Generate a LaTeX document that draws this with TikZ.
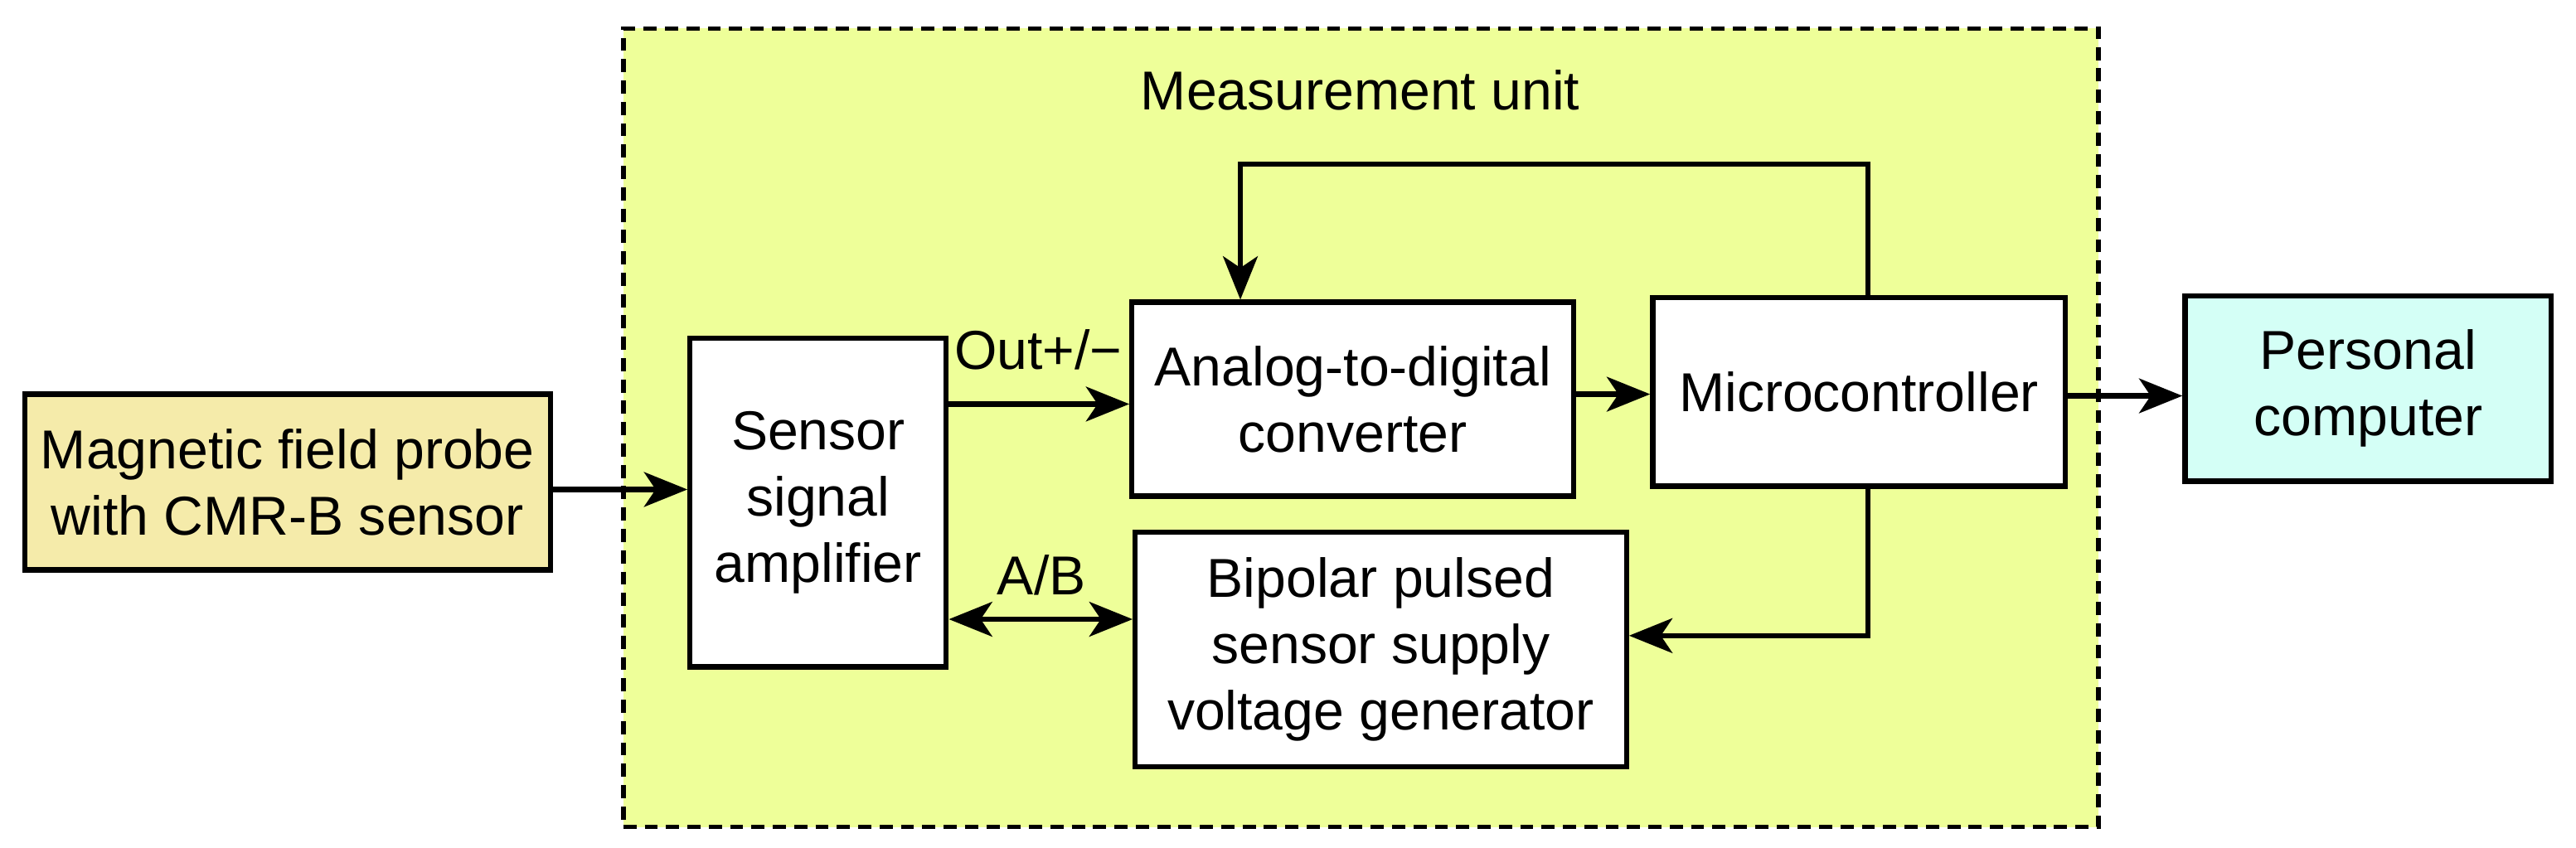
\documentclass[tikz,border=0pt]{standalone}
\usepackage{fontspec}
\setmainfont{Liberation Sans}
\usetikzlibrary{arrows.meta}
\definecolor{mu}{HTML}{EEFF99}
\definecolor{mag}{HTML}{F5EBAA}
\definecolor{pc}{HTML}{D4FFF6}
\begin{document}
\begin{tikzpicture}[x=0.02cm,y=-0.02cm,
  box/.style={draw,line width=1.8pt,align=center,font=\fontsize{19}{23}\selectfont,inner sep=0pt},
  arr/.style={line width=1.8pt,-{Stealth[length=15pt,width=12pt,inset=4pt]}},
  lbl/.style={font=\fontsize{19}{23}\selectfont,inner sep=0pt}]
\useasboundingbox (0,0) rectangle (1568,516);
\node[draw,line width=1.6pt,dash pattern=on 0.16cm off 0.1cm,fill=mu,minimum width=898*0.02cm,minimum height=486*0.02cm,anchor=north west] (mu) at (378,16) {};
\node[lbl] (mut) at (828,55) {Measurement unit};
\node[box,fill=mag,minimum width=320*0.02cm,minimum height=107*0.02cm] (mag) at (175,293.5) {Magnetic field probe\\with CMR-B sensor};
\node[box,fill=white,minimum width=156*0.02cm,minimum height=200*0.02cm] (amp) at (498,306) {Sensor\\signal\\amplifier};
\node[box,fill=white,minimum width=269*0.02cm,minimum height=118*0.02cm] (adc) at (823.5,243) {Analog-to-digital\\converter};
\node[box,fill=white,minimum width=251*0.02cm,minimum height=115*0.02cm] (mc) at (1131.5,238.5) {Microcontroller};
\node[box,fill=pc,minimum width=223*0.02cm,minimum height=113*0.02cm] (pc) at (1441.5,236.5) {Personal\\computer};
\node[box,fill=white,minimum width=299*0.02cm,minimum height=143*0.02cm] (bp) at (840.5,395.5) {Bipolar pulsed\\sensor supply\\voltage generator};
\draw[arr] (mag.east |- 0,298) -- (amp.west |- 0,298);
\draw[arr] (amp.east |- 0,246) -- (adc.west |- 0,246);
\node[lbl] (out) at (632,213) {Out+/−};
\draw[arr] (adc.east |- 0,240) -- (mc.west |- 0,240);
\draw[arr] (mc.east |- 0,241) -- (pc.west |- 0,241);
\coordinate (t1) at (1137,100);
\coordinate (t2) at (755,100);
\draw[arr] (mc.north -| t1) -- (t1) -- (t2) -- (adc.north -| t2);
\coordinate (b1) at (1137,387);
\draw[arr] (mc.south -| b1) -- (b1) -- (bp.east |- b1);
\draw[line width=1.8pt,{Stealth[length=15pt,width=12pt,inset=4pt]}-{Stealth[length=15pt,width=12pt,inset=4pt]}] (amp.east |- 0,377) -- (bp.west |- 0,377);
\node[lbl] (ab) at (634,350) {A/B};
\end{tikzpicture}
\end{document}
